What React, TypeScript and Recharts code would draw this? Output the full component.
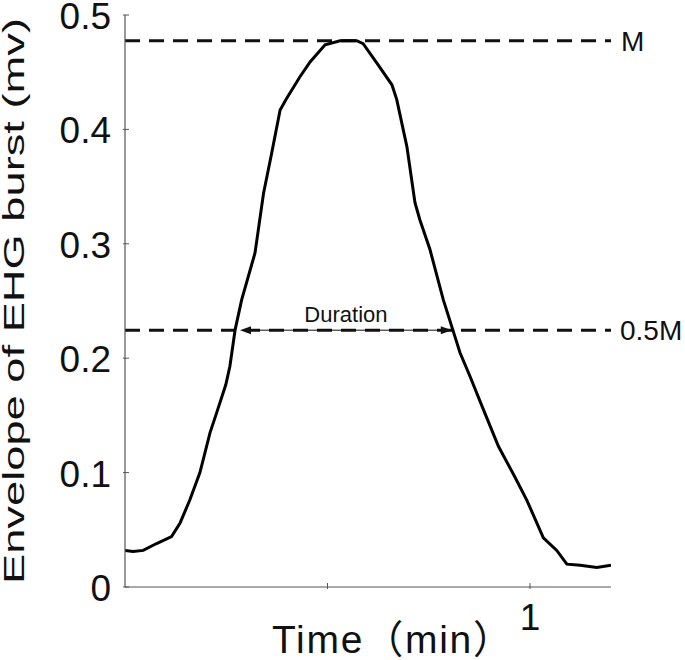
import React from 'react';
import { LineChart, Line, XAxis, YAxis, ReferenceLine } from 'recharts';

// time (min) and envelope (mv)
const timeMin = [
  0, 0.02, 0.045, 0.078, 0.115, 0.136, 0.16, 0.185, 0.21, 0.226, 0.249, 0.259, 0.272,
  0.288, 0.321, 0.342, 0.362, 0.383, 0.399, 0.432, 0.457, 0.494, 0.531, 0.572, 0.588,
  0.622, 0.659, 0.671, 0.696, 0.716, 0.728, 0.753, 0.786, 0.811, 0.827, 0.852, 0.885,
  0.922, 0.963, 0.992, 1.033, 1.066, 1.091, 1.124, 1.165, 1.2,
];
const envelope = [
  0.032, 0.031, 0.032, 0.038, 0.044, 0.056, 0.076, 0.1, 0.135, 0.152, 0.177, 0.193, 0.225,
  0.251, 0.292, 0.344, 0.379, 0.417, 0.427, 0.446, 0.459, 0.474, 0.4775, 0.4775, 0.475,
  0.458, 0.439, 0.426, 0.385, 0.336, 0.321, 0.295, 0.251, 0.223, 0.205, 0.184, 0.155,
  0.123, 0.096, 0.076, 0.043, 0.032, 0.02, 0.019, 0.017, 0.019,
];
const yTicks = [0, 0.1, 0.2, 0.3, 0.4, 0.5];
const xTicks = [0.5, 1];
const xTickLabels: Record<number, string> = { 0.5: '', 1: '1' };
const peakM = 0.4775;
const halfM = 0.2245;
const durationStart = 0.284;
const durationEnd = 0.807;

const data = timeMin.map((t, i) => ({ t, v: envelope[i] }));

const FONT = '"Liberation Sans", Arial, "Noto Sans CJK SC", sans-serif';
const AXIS = '#555';

const LeftTick = (props: any) => {
  const { x, y, payload } = props;
  return (
    <g>
      <line x1={x} y1={y} x2={x + 6} y2={y} stroke={AXIS} strokeWidth={1} />
      <text x={x - 12} y={y} dy={14} textAnchor="end" fontSize={37} fontFamily={FONT} fill="#111">
        {payload.value === 0 ? '0' : payload.value.toFixed(1)}
      </text>
    </g>
  );
};

const RightTick = (props: any) => {
  const { x, y } = props;
  return <line x1={x} y1={y} x2={x - 6} y2={y} stroke={AXIS} strokeWidth={1} />;
};

const BottomTick = (props: any) => {
  const { x, y, payload } = props;
  return (
    <g>
      <line x1={x} y1={y} x2={x} y2={y - 6} stroke={AXIS} strokeWidth={1} />
      <text x={x} y={y + 41} textAnchor="middle" fontSize={37} fontFamily={FONT} fill="#111">
        {xTickLabels[payload.value]}
      </text>
    </g>
  );
};

const TopTick = (props: any) => {
  const { x, y } = props;
  return <line x1={x} y1={y} x2={x} y2={y + 6} stroke={AXIS} strokeWidth={1} />;
};

// the source label is stretched along its length, so fit it to the axis height
const YLabel = () => (
  <text
    transform="translate(24, 301) rotate(-90)"
    textAnchor="middle"
    fontSize={30}
    fontFamily={FONT}
    fill="#111"
    textLength={566}
    lengthAdjust="spacingAndGlyphs"
  >
    Envelope of EHG burst (mv)
  </text>
);

const XLabel = () => (
  <text
    x={392}
    y={653}
    textAnchor="middle"
    fontSize={39}
    fontFamily={FONT}
    fill="#111"
    textLength={240}
    lengthAdjust="spacing"
  >
    Time（min）
  </text>
);

const DurationArrow = (props: any) => {
  const { x1, y1, x2, y2 } = props;
  const head = 11;
  const half = 4;
  return (
    <g>
      <line x1={x1 + 4} y1={y1} x2={x2 - 4} y2={y2} stroke="#111" strokeWidth={1} />
      <polygon points={`${x1},${y1} ${x1 + head},${y1 - half} ${x1 + head},${y1 + half}`} fill="#111" />
      <polygon points={`${x2},${y2} ${x2 - head},${y2 - half} ${x2 - head},${y2 + half}`} fill="#111" />
      <text x={(x1 + x2) / 2} y={y1 - 8} textAnchor="middle" fontSize={22} fontFamily={FONT} fill="#111">
        Duration
      </text>
    </g>
  );
};

export default function App() {
  return (
    <div style={{ position: 'absolute', left: 0, top: 0, background: '#fff' }}>
      <LineChart width={685} height={660} data={data} margin={{ top: 15, right: 74, bottom: 0, left: 0 }}>
        <XAxis
          dataKey="t"
          type="number"
          domain={[0, 1.2]}
          ticks={xTicks}
          height={73}
          tickSize={0}
          tickLine={false}
          tick={BottomTick}
          axisLine={{ stroke: AXIS, strokeWidth: 1.2 }}
          allowDataOverflow
          label={XLabel}
        />
        <XAxis
          xAxisId="top"
          dataKey="t"
          type="number"
          orientation="top"
          domain={[0, 1.2]}
          ticks={xTicks}
          height={0}
          tickSize={0}
          tickLine={false}
          tick={TopTick}
          axisLine={{ stroke: AXIS, strokeWidth: 1.2 }}
          allowDataOverflow
        />
        <YAxis
          type="number"
          domain={[0, 0.5]}
          ticks={yTicks}
          width={125}
          tickSize={0}
          tickLine={false}
          tick={LeftTick}
          axisLine={{ stroke: AXIS, strokeWidth: 1.2 }}
          label={YLabel}
        />
        <YAxis
          yAxisId="right"
          orientation="right"
          type="number"
          domain={[0, 0.5]}
          ticks={yTicks}
          width={0}
          tickSize={0}
          tickLine={false}
          tick={RightTick}
          axisLine={{ stroke: AXIS, strokeWidth: 1.2 }}
        />
        <ReferenceLine
          y={peakM}
          stroke="#111"
          strokeWidth={3}
          strokeDasharray="15 9"
          label={{ value: 'M', position: 'right', offset: 10, fontSize: 28, fontFamily: FONT, fill: '#111' }}
        />
        <ReferenceLine
          y={halfM}
          stroke="#111"
          strokeWidth={3}
          strokeDasharray="15 9"
          label={{ value: '0.5M', position: 'right', offset: 9, fontSize: 28, fontFamily: FONT, fill: '#111' }}
        />
        <ReferenceLine
          segment={[
            { x: durationStart, y: halfM },
            { x: durationEnd, y: halfM },
          ]}
          shape={DurationArrow}
        />
        <Line
          type="linear"
          dataKey="v"
          stroke="#000"
          strokeWidth={3}
          dot={false}
          isAnimationActive={false}
        />
      </LineChart>
    </div>
  );
}
